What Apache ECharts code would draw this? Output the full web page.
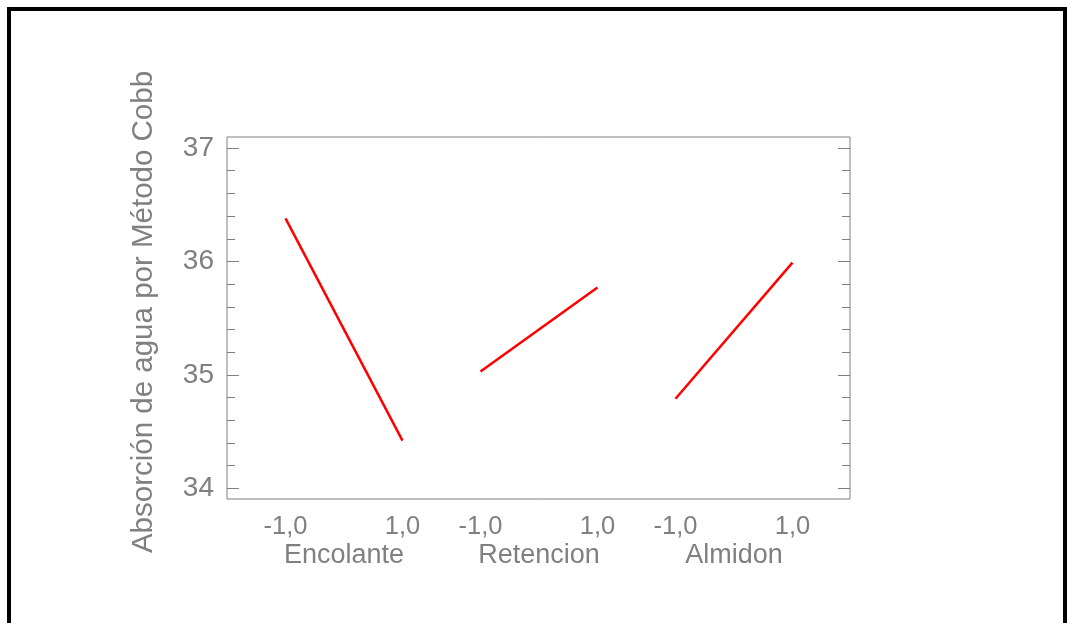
<!DOCTYPE html>
<html>
<head>
<meta charset="utf-8">
<script src="https://cdn.jsdelivr.net/npm/echarts@6/dist/echarts.min.js"></script>
<style>
html,body{margin:0;padding:0;background:#fff;}
#chart{width:1067px;height:623px;}
</style>
</head>
<body>
<div id="chart"></div>
<script>
// ---- data ----
const factors = ['Encolante', 'Retencion', 'Almidon'];
const levelLabels = ['-1,0', '1,0'];
const levels = [-1, 1];
const lowMeans = [36.38, 35.03, 34.79];
const highMeans = [34.42, 35.77, 35.99];
const yMajorTicks = [34, 35, 36, 37];
const yMinorTicks = [34.2, 34.4, 34.6, 34.8, 35.2, 35.4, 35.6, 35.8, 36.2, 36.4, 36.6, 36.8];
const yTitle = 'Absorción de agua por Método Cobb';

// ---- layout helpers ----
const groupStep = 10 / 3;
const gray = '#808080';
const fontFamily = '"Liberation Sans", Arial, sans-serif';
const yMin = 33.906, yMax = 37.097;

const centers = factors.map((f, i) => i * groupStep);
const levelPositions = [];
factors.forEach((f, i) => levels.forEach(l => levelPositions.push(i * groupStep + l)));

const series = factors.map((f, i) => ({
  name: f,
  type: 'line',
  xAxisIndex: 0,
  yAxisIndex: 0,
  showSymbol: false,
  symbol: 'none',
  lineStyle: { color: '#ff0000', width: 2.5 },
  data: [[i * groupStep + levels[0], lowMeans[i]], [i * groupStep + levels[1], highMeans[i]]],
  silent: true,
  animation: false
}));

function yAxisDef(pos, ticks, len, showLabel, extra) {
  return Object.assign({
    type: 'value', position: pos, min: yMin, max: yMax,
    axisLine: { show: false, onZero: false }, splitLine: { show: false },
    axisTick: { show: true, inside: true, length: len, customValues: ticks, lineStyle: { color: gray, width: 1 } },
    axisLabel: showLabel ? { show: true, customValues: ticks, margin: 13, color: gray, fontSize: 28, fontFamily: fontFamily } : { show: false }
  }, extra || {});
}

const chart = echarts.init(document.getElementById('chart'), null, { renderer: 'canvas' });
chart.setOption({
  animation: false,
  backgroundColor: '#fff',
  grid: { left: 227, right: 217, top: 137, bottom: 124, show: true, borderColor: gray, borderWidth: 1, backgroundColor: 'transparent' },
  xAxis: [
    {
      type: 'value', position: 'bottom', min: -2, max: 8.65,
      axisLine: { show: false, onZero: false }, splitLine: { show: false }, axisTick: { show: false },
      axisLabel: {
        customValues: levelPositions, margin: 15, color: gray, fontSize: 25.5, fontFamily: fontFamily,
        formatter: v => { const g = Math.round(v / groupStep); return (v - g * groupStep) < 0 ? levelLabels[0] : levelLabels[1]; }
      }
    },
    {
      type: 'value', position: 'bottom', min: -2, max: 8.65,
      axisLine: { show: false, onZero: false }, splitLine: { show: false }, axisTick: { show: false },
      axisLabel: {
        customValues: centers, margin: 43, color: gray, fontSize: 27, fontFamily: fontFamily,
        formatter: v => factors[Math.round(v / groupStep)]
      }
    }
  ],
  yAxis: [
    yAxisDef('left', yMajorTicks, 12, true, {
      name: yTitle, nameLocation: 'middle', nameGap: 68, nameRotate: 90,
      nameTextStyle: { color: gray, fontSize: 29.5, fontFamily: fontFamily, padding: [0, 0, 0, 12] }
    }),
    yAxisDef('left', yMinorTicks, 8, false),
    yAxisDef('right', yMajorTicks, 12, false),
    yAxisDef('right', yMinorTicks, 8, false)
  ],
  graphic: [{
    type: 'polyline',
    shape: { points: [[9, 623], [9, 9], [1065, 9], [1065, 623]] },
    style: { stroke: '#000', lineWidth: 4, fill: null },
    silent: true
  }],
  series: series
});
</script>
</body>
</html>
